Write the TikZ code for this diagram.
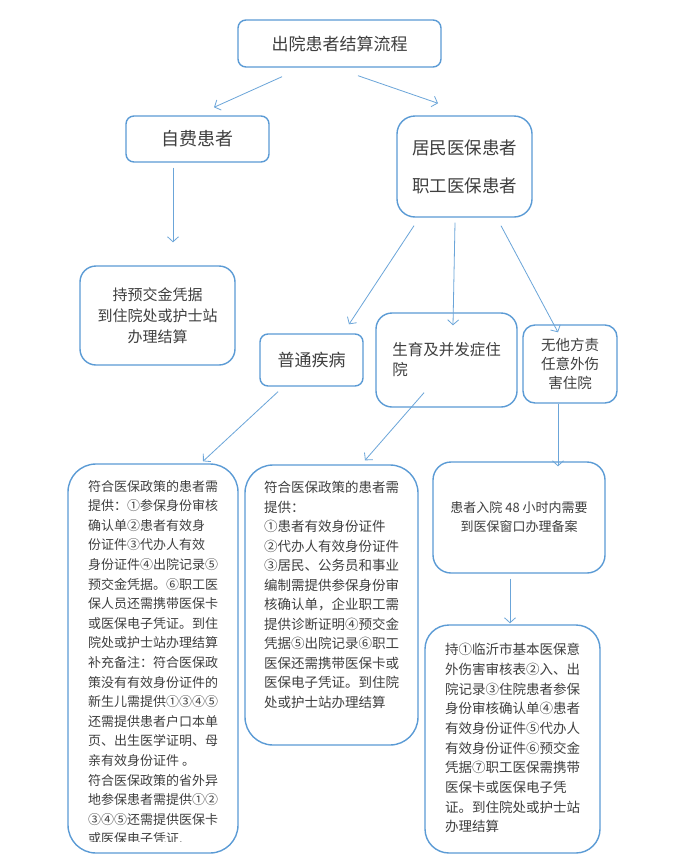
\documentclass[tikz,border=0pt]{standalone}
\usepackage{fontspec}
\setmainfont{Noto Sans CJK SC}
\usetikzlibrary{arrows.meta,calc}
\definecolor{bl}{HTML}{5B9BD5}
\definecolor{tx}{HTML}{3F3F3F}
\newcommand{\fsz}[2]{\fontsize{#1}{#2}\selectfont}
\begin{document}
\begin{tikzpicture}[x=1pt,y=-1pt,
  box/.style={draw=bl, line width=1.4pt, rounded corners=#1, inner sep=0pt, text=tx, align=center},
  box/.default=8pt,
  arr/.style={draw=bl!90, line width=0.8pt, -{Straight Barb[length=5pt,width=11pt]}},
  txt/.style={text=tx, inner sep=0pt, align=left, anchor=north west}]
\useasboundingbox (0,0) rectangle (700,865);
\fill[white] (0,0) rectangle (700,865);

% boxes
\node[box=8pt, minimum width=203pt, minimum height=47pt, font=\fsz{17}{20}] (title) at (339.5,43.5)
  {出院患者结算流程};
\node[box=8pt, minimum width=143pt, minimum height=46pt, font=\fsz{18}{20}] (zf) at (197.5,139)
  {自费患者};
\node[box=18pt, minimum width=135pt, minimum height=101pt, font=\fsz{17.5}{38}] (jm) at (464.5,166.5)
  {居民医保患者\\职工医保患者};
\node[box=16pt, minimum width=155pt, minimum height=99pt, font=\fsz{15}{21}] (cy) at (157.5,315.5)
  {持预交金凭据\\到住院处或护士站\\办理结算};
\node[box=8pt, minimum width=103pt, minimum height=52pt, font=\fsz{17}{20}] (pt) at (311.5,360)
  {普通疾病};
\node[box=16pt, minimum width=141pt, minimum height=94pt, align=left, font=\fsz{15.5}{20}] (sy) at (446.5,360)
  {生育及并发症住\\院};
\node[box=12pt, minimum width=94pt, minimum height=78pt, font=\fsz{14.5}{19}] (ws) at (570,364)
  {无他方责\\任意外伤\\害住院};
\node[box=28pt, minimum width=170pt, minimum height=389pt] (b1) at (153,658.5) {};
\node[box=28pt, minimum width=173pt, minimum height=280pt] (b2) at (331.5,605) {};
\node[box=18pt, minimum width=172pt, minimum height=111pt, font=\fsz{13}{19}] (b3) at (519,517.5)
  {患者入院 48 小时内需要\\到医保窗口办理备案};
\node[box=24pt, minimum width=175pt, minimum height=228pt] (b4) at (512.5,739) {};

% texts of the large boxes
\begin{scope}
\clip (70,466) rectangle (236,841);
\node[txt, font=\fsz{13}{19.6}] (t1) at (88,480) {%
符合医保政策的患者需\\
提供：①参保身份审核\\
确认单②患者有效身\\
份证件③代办人有效\\
身份证件④出院记录⑤\\
预交金凭据。⑥职工医\\
保人员还需携带医保卡\\
或医保电子凭证。到住\\
院处或护士站办理结算\\
补充备注：符合医保政\\
策没有有效身份证件的\\
新生儿需提供①③④⑤\\
还需提供患者户口本单\\
页、出生医学证明、母\\
亲有效身份证件 。\\
符合医保政策的省外异\\
地参保患者需提供①②\\
③④⑤还需提供医保卡\\
或医保电子凭证.};
\end{scope}
\node[txt, font=\fsz{13.5}{19.5}] (t2) at (264,481) {%
符合医保政策的患者需\\
提供：\\
①患者有效身份证件\\
②代办人有效身份证件\\
③居民、公务员和事业\\
编制需提供参保身份审\\
核确认单，企业职工需\\
提供诊断证明④预交金\\
凭据⑤出院记录⑥职工\\
医保还需携带医保卡或\\
医保电子凭证。到住院\\
处或护士站办理结算};
\node[txt, font=\fsz{13.5}{19.7}] (t4) at (445,643) {%
持①临沂市基本医保意\\
外伤害审核表②入、出\\
院记录③住院患者参保\\
身份审核确认单④患者\\
有效身份证件⑤代办人\\
有效身份证件⑥预交金\\
凭据⑦职工医保需携带\\
医保卡或医保电子凭\\
证。到住院处或护士站\\
办理结算};

% connectors
\draw[arr] ($(title.south)+(-57.5,9)$) -- ($(zf.north)+(16.5,-8)$);
\draw[arr] ($(title.south)+(18.5,8)$) -- ($(jm.north)+(-26.5,-12)$);
\draw[arr] ($(zf.south)+(-24.5,5)$) -- ($(cy.north)+(15.5,-23)$);
\draw[arr] ($(jm.south)+(-50.5,8)$) -- ($(pt.north)+(37.5,-9)$);
\draw[arr] ($(jm.south)+(-9.5,5)$) -- ($(sy.north)+(6.5,13)$);
\draw[arr] ($(jm.south)+(36.5,8)$) -- ($(ws.north)+(-12,8)$);
\draw[arr] ($(pt.south)+(-33.5,5)$) -- ($(b1.north)+(50,-2)$);
\draw[arr] ($(sy.south)+(-22.5,-15)$) -- ($(b2.north)+(33.5,-4)$);
\draw[arr] ($(ws.south)+(-12,0)$) -- ($(b3.north)+(39,5)$);
\draw[arr] ($(b3.south)+(-9,5)$) -- ($(b4.north)+(-2.5,-1)$);
\end{tikzpicture}
\end{document}
